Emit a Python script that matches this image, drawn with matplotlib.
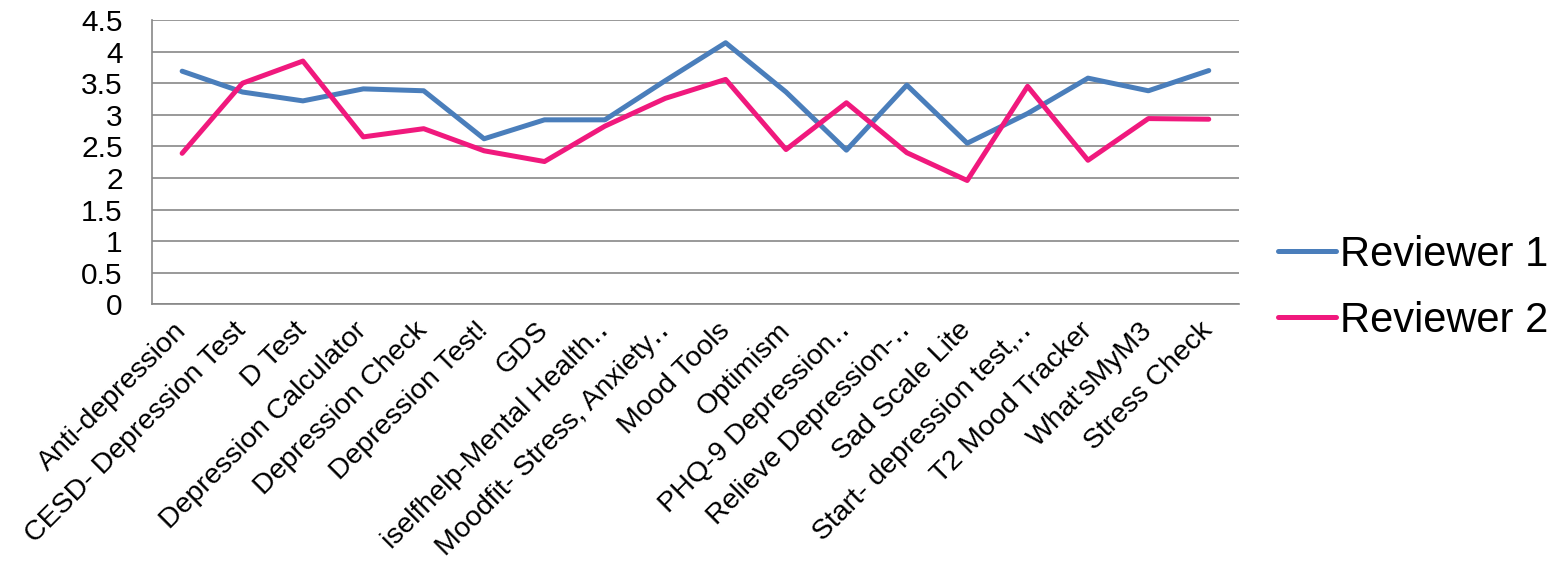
import matplotlib
matplotlib.use("Agg")
import matplotlib.pyplot as plt
from matplotlib.patches import Arc

plt.rcParams['font.family'] = ['Liberation Sans', 'DejaVu Sans']

apps = ["Anti-depression", "CESD- Depression Test", "D Test", "Depression Calculator",
        "Depression Check", "Depression Test!", "GDS", "iselfhelp-Mental Health\u2025",
        "Moodfit- Stress, Anxiety\u2025", "Mood Tools", "Optimism", "PHQ-9 Depression\u2025",
        "Relieve Depression-\u2025", "Sad Scale Lite", "Start- depression test,\u2025",
        "T2 Mood Tracker", "What'sMyM3", "Stress Check"]

reviewer1 = [3.69, 3.36, 3.22, 3.41, 3.38, 2.62, 2.92, 2.92, 3.54, 4.14,
             3.36, 2.44, 3.47, 2.55, 3.02, 3.58, 3.38, 3.70]
reviewer2 = [2.39, 3.50, 3.85, 2.65, 2.78, 2.43, 2.26, 2.82, 3.26, 3.56,
             2.45, 3.19, 2.40, 1.96, 3.45, 2.28, 2.94, 2.93]

yticks = [0, 0.5, 1, 1.5, 2, 2.5, 3, 3.5, 4, 4.5]
ytick_labels = ["0", "0.5", "1", "1.5", "2", "2.5", "3", "3.5", "4", "4.5"]

fig = plt.figure(figsize=(15.6, 5.62), dpi=100)
ax = fig.add_axes([0.0974, 0.4585, 0.6968, 0.5059])

x = list(range(len(apps)))
ax.plot(x, reviewer1, color="#4A7EBB", lw=3.6, label="Reviewer 1", solid_capstyle="round")
ax.plot(x, reviewer2, color="#F0197D", lw=3.6, label="Reviewer 2", solid_capstyle="round")

ax.set_xlim(-0.5, len(apps) - 0.5)
ax.set_ylim(0, 4.5)
ax.set_yticks(yticks)
ax.set_yticklabels(ytick_labels, fontsize=21.5)
ax.set_xticks(x)
ax.set_xticklabels(apps, fontsize=20.5, rotation=45, ha="right", va="center",
                   rotation_mode="anchor")
ax.tick_params(axis="both", length=0)
ax.tick_params(axis="x", pad=16)
ax.tick_params(axis="y", pad=21)

ax.grid(axis="y", color="#878787", lw=1.2)
ax.set_axisbelow(True)
for s in ["top", "right"]:
    ax.spines[s].set_visible(False)
for s in ["left", "bottom"]:
    ax.spines[s].set_color("#878787")
    ax.spines[s].set_linewidth(1.2)

fig.legend(loc="center left", bbox_to_anchor=(0.819, 0.488), fontsize=30,
           frameon=False, borderpad=0, borderaxespad=0, handlelength=1.4,
           handletextpad=0.1, labelspacing=0.62)

# faint decorative arc in the bottom right corner
fig.add_artist(Arc((1.02, -0.6), 0.12, 1.25, theta1=95, theta2=130,
                   transform=fig.transFigure, color="#E8957A", lw=2.5))

fig.savefig("out.png", dpi=100)
